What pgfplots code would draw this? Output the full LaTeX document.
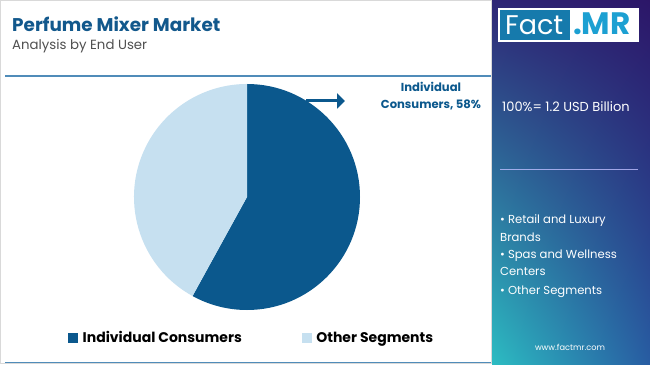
\documentclass[border=0pt]{standalone}
\usepackage{pgfplots}
\pgfplotsset{compat=1.18}
\usepackage{pgfplotstable}
\usepackage{fontspec}
\setmainfont{Poppins}
\usetikzlibrary{arrows.meta,shadings}
\definecolor{pdark}{RGB}{11,88,141}
\definecolor{plight}{RGB}{198,224,240}
\definecolor{ttl}{RGB}{18,88,140}
\definecolor{sub}{RGB}{80,80,80}
\definecolor{lineblue}{RGB}{80,140,185}
\definecolor{ul}{RGB}{46,38,118}
\definecolor{ur}{RGB}{44,22,104}
\definecolor{ll}{RGB}{44,188,194}
\definecolor{lr}{RGB}{40,92,162}
\definecolor{factblue}{RGB}{22,122,172}
\definecolor{mrblue}{RGB}{28,160,210}
\pgfplotstableread{
label value
Individual 58
Other 42
}\piedata
\pgfplotstablegetelem{0}{value}\of\piedata
\let\va\pgfplotsretval
\pgfplotstablegetelem{1}{value}\of\piedata
\let\vb\pgfplotsretval
\pgfmathsetmacro{\angA}{90-3.6*\va}
\pgfmathsetmacro{\angB}{\angA-3.6*\vb}
\begin{document}
\begin{tikzpicture}[x=1pt,y=1pt]
% canvas
\fill[white] (0,0) rectangle (650,364);
\draw[black!15,line width=0.8pt] (0.4,0.4) rectangle (491,363.6);
% title
\node[anchor=base west,inner sep=0,text=ttl,font=\fontsize{18.4}{20}\selectfont\bfseries] at (12,332) {Perfume Mixer Market};
\node[anchor=base west,inner sep=0,text=sub,font=\fontsize{13.3}{14}\selectfont] at (12,314) {Analysis by End User};
\draw[lineblue,line width=1.5pt] (5,288) -- (491,288);
\draw[lineblue,line width=1.5pt] (5,1.5) -- (491,1.5);
% right panel
\shade[upper left=ul, upper right=ur, lower left=ll, lower right=lr] (492,0) rectangle (650,364);
% logo
\fill[white] (498,322) rectangle (639,356);
\fill[factblue] (500,324) rectangle (570,354);
\node[anchor=base west,inner sep=0,text=white,font=\fontsize{27}{28}\selectfont] at (505,329) {Fact};
\node[anchor=base west,inner sep=0,text=mrblue,font=\fontsize{31}{31}\selectfont\bfseries] at (573,329) {.MR};
\node[anchor=base west,inner sep=0,text=white,font=\fontsize{13}{14}\selectfont] at (502,252) {100\%= 1.2 USD Billion};
\draw[white!75!blue,opacity=0.8,line width=1pt] (500,194) -- (638,194);
\begin{scope}[every node/.style={anchor=base west,inner sep=0,text=white,font=\fontsize{11.6}{13}\selectfont}]
\node at (500,140) {\textbullet\ Retail and Luxury};
\node at (500,122) {Brands};
\node at (500,105) {\textbullet\ Spas and Wellness};
\node at (500,88) {Centers};
\node at (500,70) {\textbullet\ Other Segments};
\end{scope}
\node[anchor=base,inner sep=0,text=white,font=\fontsize{8.2}{9}\selectfont] at (570,14) {www.factmr.com};
% pie
\begin{axis}[at={(247pt,167pt)},anchor=center,width=226pt,height=226pt,scale only axis,
  hide axis,xmin=-1,xmax=1,ymin=-1,ymax=1,clip=false,
  legend style={at={(0.521,-0.124)},anchor=center,draw=none,fill=none,
    font=\fontsize{14}{16}\selectfont\bfseries,legend columns=2,
    /tikz/every even column/.append style={column sep=58pt}},
  legend cell align=left]
\addlegendimage{legend image code/.code={\fill[pdark] (0pt,-4.5pt) rectangle (9pt,4.5pt);\path (12pt,0pt);}}
\addlegendentry{Individual Consumers}
\addlegendimage{legend image code/.code={\fill[plight] (0pt,-4.5pt) rectangle (9pt,4.5pt);\path (12pt,0pt);}}
\addlegendentry{Other Segments}
\fill[pdark] (axis cs:0,0) -- (axis cs:0,1) arc[start angle=90,end angle=\angA,radius=113pt] -- cycle;
\fill[plight] (axis cs:0,0) -- ({axis cs:{cos(\angA)},{sin(\angA)}}) arc[start angle=\angA,end angle=\angB,radius=113pt] -- cycle;
\end{axis}
% label and arrow
\draw[pdark,line width=3pt,-{Triangle[length=8pt,width=15pt]}] (306,263) -- (345,263);
\node[anchor=base,inner sep=0,text=pdark,font=\fontsize{11.6}{13}\selectfont\bfseries] at (431,272) {Individual};
\node[anchor=base,inner sep=0,text=pdark,font=\fontsize{11.6}{13}\selectfont\bfseries] at (431,255) {Consumers, 58\%};
\end{tikzpicture}
\end{document}
